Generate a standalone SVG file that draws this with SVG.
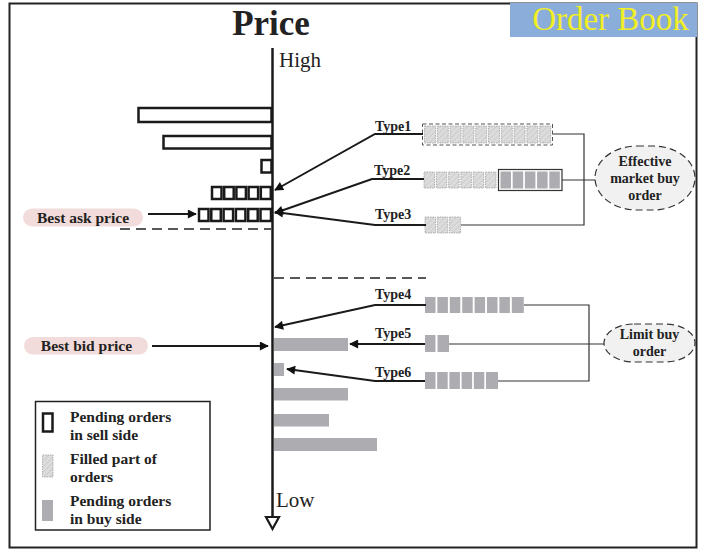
<svg xmlns="http://www.w3.org/2000/svg" width="704" height="552" viewBox="0 0 704 552" font-family="'Liberation Serif', 'DejaVu Serif', serif">
<defs>
<pattern id="hatch" patternUnits="userSpaceOnUse" width="4" height="4" patternTransform="rotate(45)">
<rect width="4" height="4" fill="#dcdcdc"/>
<line x1="0" y1="0" x2="0" y2="4" stroke="#c8c8c8" stroke-width="1.5"/>
</pattern>
<marker id="ah" viewBox="0 0 10 10" refX="9" refY="5" markerWidth="5" markerHeight="4.5" orient="auto" markerUnits="strokeWidth">
<path d="M0,0 L10,5 L0,10 Z" fill="#111"/>
</marker>
<style>
text{font-family:'Liberation Serif','DejaVu Serif',serif;fill:#222}
.b{font-weight:bold;font-size:14px}
.lg{font-weight:bold;font-size:15.5px}
.sell{fill:#fff;stroke:#1a1a1a;stroke-width:2.5}
.fill{fill:url(#hatch);stroke:#a0a0a0;stroke-width:0.8;stroke-dasharray:1.5 1}
.buy{fill:#adadb1}
.arr{fill:none;stroke:#1a1a1a;stroke-width:2;marker-end:url(#ah)}
.ln{fill:none;stroke:#333;stroke-width:1.2}
.dash{fill:none;stroke:#222;stroke-width:1.6;stroke-dasharray:10 6}
</style>
</defs>
<rect x="9.5" y="3.5" width="687" height="544" fill="#fff" stroke="#222" stroke-width="2"/>
<g id="header">
<text x="271" y="35" font-size="35" font-weight="bold" text-anchor="middle">Price</text>
<rect x="510" y="3" width="187" height="34" fill="#8badda"/>
<text x="610.5" y="29.5" font-size="33" text-anchor="middle" style="fill:#f2ee24">Order Book</text>
</g>
<g id="axis">
<line x1="272.5" y1="48" x2="272.5" y2="518" stroke="#1a1a1a" stroke-width="2.5"/>
<path d="M266,517 L279,517 L272.5,529 Z" fill="#fff" stroke="#1a1a1a" stroke-width="2.2"/>
<text x="279" y="67" font-size="21">High</text>
<text x="276" y="507" font-size="21">Low</text>
</g>
<g id="sell-side">
<rect class="sell" x="138.5" y="108" width="133" height="14"/>
<rect class="sell" x="163.5" y="136" width="108" height="12.5"/>
<rect class="sell" x="261.5" y="160" width="10" height="12.5"/>
<rect class="sell" x="212" y="187" width="9.5" height="12"/>
<rect class="sell" x="224.2" y="187" width="9.5" height="12"/>
<rect class="sell" x="236.4" y="187" width="9.5" height="12"/>
<rect class="sell" x="248.6" y="187" width="9.5" height="12"/>
<rect class="sell" x="260.8" y="187" width="10" height="12"/>
<rect class="sell" x="199" y="209" width="9.5" height="12"/>
<rect class="sell" x="211.3" y="209" width="9.5" height="12"/>
<rect class="sell" x="223.6" y="209" width="9.5" height="12"/>
<rect class="sell" x="235.9" y="209" width="9.5" height="12"/>
<rect class="sell" x="248.2" y="209" width="9.5" height="12"/>
<rect class="sell" x="260.5" y="209" width="10.5" height="12"/>
</g>
<g id="buy-side">
<rect class="buy" x="274" y="338" width="74" height="13"/>
<rect class="buy" x="274" y="363" width="10" height="13"/>
<rect class="buy" x="274" y="388" width="74" height="12.5"/>
<rect class="buy" x="274" y="414" width="55" height="12.5"/>
<rect class="buy" x="274" y="438" width="103" height="13"/>
</g>
<g id="dividers">
<line class="dash" x1="120" y1="229" x2="271" y2="229"/>
<line class="dash" x1="274" y1="278" x2="426" y2="278"/>
</g>
<g id="best-ask">
<rect x="23" y="208.5" width="120" height="18" rx="9" fill="#f2dcdb"/>
<text class="lg" x="83" y="223" text-anchor="middle">Best ask price</text>
</g>
<g id="best-bid">
<rect x="24" y="337" width="124" height="17.5" rx="9" fill="#f2dcdb"/>
<text class="lg" x="86.5" y="351" text-anchor="middle">Best bid price</text>
</g>
<g id="type1">
<rect x="422.5" y="124" width="130" height="21" fill="none" stroke="#555" stroke-width="1" stroke-dasharray="4 2.5"/>
<rect class="fill" x="424.5" y="126" width="11" height="17"/>
<rect class="fill" x="437.3" y="126" width="11" height="17"/>
<rect class="fill" x="450.1" y="126" width="11" height="17"/>
<rect class="fill" x="462.9" y="126" width="11" height="17"/>
<rect class="fill" x="475.7" y="126" width="11" height="17"/>
<rect class="fill" x="488.5" y="126" width="11" height="17"/>
<rect class="fill" x="501.3" y="126" width="11" height="17"/>
<rect class="fill" x="514.1" y="126" width="11" height="17"/>
<rect class="fill" x="526.9" y="126" width="11" height="17"/>
<rect class="fill" x="539.7" y="126" width="11" height="17"/>
<text class="b" x="375" y="131">Type1</text>
</g>
<g id="type2">
<rect class="fill" x="424" y="172" width="10.5" height="16"/>
<rect class="fill" x="436.3" y="172" width="10.5" height="16"/>
<rect class="fill" x="448.6" y="172" width="10.5" height="16"/>
<rect class="fill" x="460.9" y="172" width="10.5" height="16"/>
<rect class="fill" x="473.2" y="172" width="10.5" height="16"/>
<rect class="fill" x="485.5" y="172" width="10.5" height="16"/>
<rect x="498.5" y="169.5" width="63.5" height="21" fill="#fff" stroke="#333" stroke-width="1.2"/>
<rect class="buy" x="500.5" y="171.5" width="10.5" height="17"/>
<rect class="buy" x="512.7" y="171.5" width="10.5" height="17"/>
<rect class="buy" x="524.9" y="171.5" width="10.5" height="17"/>
<rect class="buy" x="537.1" y="171.5" width="10.5" height="17"/>
<rect class="buy" x="549.3" y="171.5" width="10.5" height="17"/>
<text class="b" x="374" y="175">Type2</text>
</g>
<g id="type3">
<rect class="fill" x="425" y="217" width="10.5" height="16"/>
<rect class="fill" x="437.3" y="217" width="10.5" height="16"/>
<rect class="fill" x="449.6" y="217" width="11" height="16"/>
<text class="b" x="375" y="219">Type3</text>
</g>
<g id="type4">
<rect class="buy" x="425" y="297" width="10.5" height="16"/>
<rect class="buy" x="437.4" y="297" width="10.5" height="16"/>
<rect class="buy" x="449.8" y="297" width="10.5" height="16"/>
<rect class="buy" x="462.2" y="297" width="10.5" height="16"/>
<rect class="buy" x="474.6" y="297" width="10.5" height="16"/>
<rect class="buy" x="487" y="297" width="10.5" height="16"/>
<rect class="buy" x="499.4" y="297" width="10.5" height="16"/>
<rect class="buy" x="511.8" y="297" width="12" height="16"/>
<text class="b" x="375" y="299">Type4</text>
</g>
<g id="type5">
<rect class="buy" x="425" y="335" width="10.5" height="17"/>
<rect class="buy" x="437.5" y="335" width="11.5" height="17"/>
<text class="b" x="375" y="338">Type5</text>
</g>
<g id="type6">
<rect class="buy" x="425" y="372" width="10.5" height="17"/>
<rect class="buy" x="437.2" y="372" width="10.5" height="17"/>
<rect class="buy" x="449.4" y="372" width="10.5" height="17"/>
<rect class="buy" x="461.6" y="372" width="10.5" height="17"/>
<rect class="buy" x="473.8" y="372" width="10.5" height="17"/>
<rect class="buy" x="486" y="372" width="12" height="17"/>
<text class="b" x="375" y="377">Type6</text>
</g>
<g id="effective-market-buy-order">
<rect x="595" y="146" width="100" height="64" rx="42" ry="32" fill="#f1f1f1" stroke="#333" stroke-width="1.2" stroke-dasharray="7 4"/>
<text class="b" x="645" y="166" text-anchor="middle">Effective</text>
<text class="b" x="645" y="183" text-anchor="middle">market buy</text>
<text class="b" x="645" y="200" text-anchor="middle">order</text>
</g>
<g id="limit-buy-order">
<rect x="604" y="324" width="91" height="38" rx="30" ry="19" fill="#f1f1f1" stroke="#333" stroke-width="1.2" stroke-dasharray="7 4"/>
<text class="b" x="649.5" y="339" text-anchor="middle">Limit buy</text>
<text class="b" x="649.5" y="356" text-anchor="middle">order</text>
</g>
<g id="legend">
<rect x="35.5" y="401.5" width="174.5" height="128.5" fill="#fff" stroke="#222" stroke-width="1.5"/>
<rect class="sell" x="43" y="413.5" width="9.5" height="18"/>
<rect class="fill" x="42.5" y="455" width="10.5" height="22"/>
<rect class="buy" x="42" y="500" width="11" height="21"/>
<text class="lg" x="70" y="422">Pending orders</text>
<text class="lg" x="70" y="440">in sell side</text>
<text class="lg" x="70" y="464">Filled part of</text>
<text class="lg" x="70" y="482">orders</text>
<text class="lg" x="70" y="506">Pending orders</text>
<text class="lg" x="70" y="524">in buy side</text>
</g>
<g id="connectors">
<path class="arr" d="M148,214 L196,214"/>
<path class="arr" d="M152,346 L268,346"/>
<path class="arr" d="M423,134 L375,134 L275,190"/>
<path class="arr" d="M424,179 L372,179 L275,213"/>
<path class="arr" d="M426,225 L375,225 L275,212"/>
<path class="arr" d="M426,305 L375,305 L275,327"/>
<path class="arr" d="M425,344 L350,344"/>
<path class="arr" d="M425,381 L375,381 L287,369"/>
<path class="ln" d="M553,134 L584,134 L584,225 L461,225"/>
<path class="ln" d="M562,180 L595,180"/>
<path class="ln" d="M524,305 L589,305 L589,381 L498,381"/>
<path class="ln" d="M449,344 L604,344"/>
</g>
</svg>
